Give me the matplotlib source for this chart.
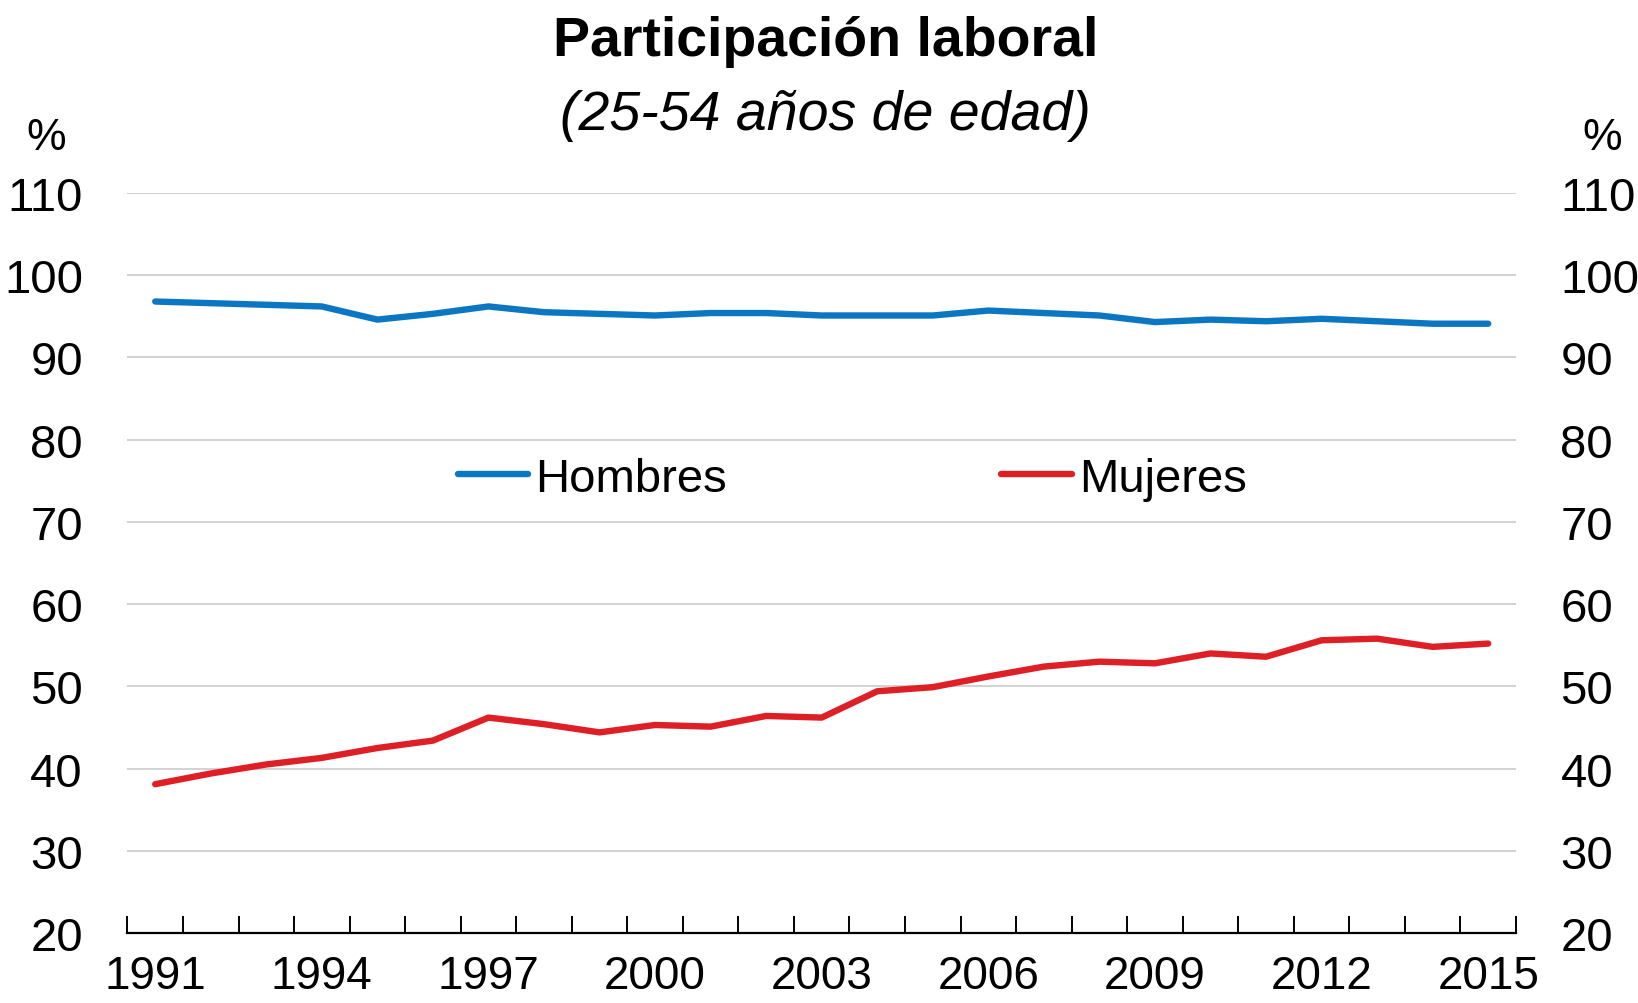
import numpy as np
import matplotlib.pyplot as plt
from matplotlib.ticker import FixedLocator

plt.rcParams['font.family'] = ['Liberation Sans Narrow', 'Liberation Sans', 'DejaVu Sans']

years = list(range(1991, 2016))
hombres = [96.8, 96.6, 96.4, 96.2, 94.6, 95.3, 96.2, 95.5, 95.3, 95.1, 95.4, 95.4, 95.1,
           95.1, 95.1, 95.7, 95.4, 95.1, 94.3, 94.6, 94.4, 94.7, 94.4, 94.1, 94.1]
mujeres = [38.1, 39.4, 40.5, 41.3, 42.5, 43.4, 46.2, 45.4, 44.4, 45.3, 45.1, 46.4, 46.2,
           49.4, 49.9, 51.2, 52.4, 53.0, 52.8, 54.0, 53.6, 55.6, 55.8, 54.8, 55.2]
yticks = [20, 30, 40, 50, 60, 70, 80, 90, 100, 110]
xlabels = [1991, 1994, 1997, 2000, 2003, 2006, 2009, 2012, 2015]

blue = '#0B77C2'
red = '#DE1F26'

fig = plt.figure(figsize=(16.38, 10.04), dpi=100)
ax = fig.add_axes([0.0778, 0.0697, 0.8477, 0.7371])

ax.plot(years, hombres, color=blue, lw=4.6, solid_capstyle='round', label='Hombres')
ax.plot(years, mujeres, color=red, lw=4.6, solid_capstyle='round', label='Mujeres')

ax.set_xlim(years[0] - 0.5, years[-1] + 0.5)
ax.set_ylim(20, 110)
ax.set_yticks(yticks)
for y in yticks[1:]:
    ax.axhline(y, color='#CFCFCF', lw=1.3, zorder=0)

for s in ['top', 'left', 'right']:
    ax.spines[s].set_visible(False)
ax.spines['bottom'].set_linewidth(1.6)

ax.set_xticks(xlabels)
ax.set_xticklabels([str(x) for x in xlabels])
ax.xaxis.set_minor_locator(FixedLocator(np.arange(years[0] - 0.5, years[-1] + 1, 1)))
ax.tick_params(axis='x', which='major', length=0, pad=15, labelsize=33)
ax.tick_params(axis='x', which='minor', length=12, width=1.4, direction='in')
ax.tick_params(axis='y', length=0, pad=32, labelsize=34)

ax2 = ax.twinx()
ax2.set_ylim(ax.get_ylim())
ax2.set_yticks(yticks)
for s in ax2.spines.values():
    s.set_visible(False)
ax2.tick_params(axis='y', length=0, pad=32, labelsize=34)

ax.legend(loc='center', bbox_to_anchor=(0.522, 0.614), ncol=2, frameon=False,
          fontsize=34, handlelength=1.5, handletextpad=0.15, columnspacing=5.8)

fig.text(0.504, 0.958, 'Participación laboral', ha='center', va='center',
         fontsize=40, fontweight='bold')
fig.text(0.504, 0.884, '(25-54 años de edad)', ha='center', va='center',
         fontsize=40, style='italic')
fig.text(0.028, 0.862, '%', ha='center', va='center', fontsize=32)
fig.text(0.978, 0.862, '%', ha='center', va='center', fontsize=32)

fig.savefig('out.png', dpi=100)
